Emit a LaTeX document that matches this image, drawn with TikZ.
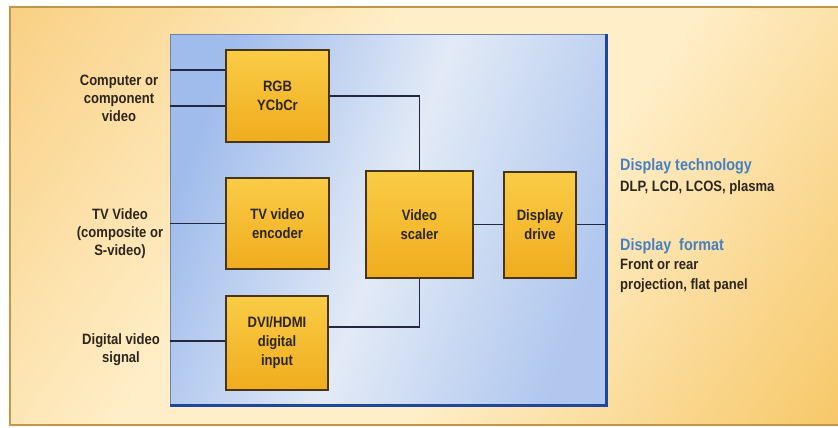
\documentclass[tikz,border=0pt]{standalone}
\usepackage{fontspec}
\setmainfont{Liberation Sans}[FakeStretch=0.87]
\definecolor{bgorange}{RGB}{245,190,90}
\definecolor{bgorangeb}{RGB}{242,178,50}
\definecolor{bgcream}{RGB}{255,238,200}
\definecolor{frameline}{RGB}{192,150,72}
\definecolor{panelside}{RGB}{160,188,236}
\definecolor{panelmid}{RGB}{226,234,246}
\definecolor{panelthin}{RGB}{110,130,170}
\definecolor{paneldark}{RGB}{30,72,160}
\definecolor{boxtop}{RGB}{250,204,70}
\definecolor{boxbot}{RGB}{240,172,30}
\definecolor{boxline}{RGB}{72,52,22}
\definecolor{wirecol}{RGB}{35,40,62}
\definecolor{ink}{RGB}{45,38,30}
\definecolor{headblue}{RGB}{70,128,195}
\pgfdeclarehorizontalshading{bgglow}{100bp}{color(0bp)=(bgorange); color(40bp)=(bgcream);
  color(58bp)=(bgcream); color(100bp)=(bgorangeb)}
\tikzset{
  blockbox/.style={draw=boxline, line width=1.6pt, top color=boxtop, bottom color=boxbot,
    align=center, inner sep=0pt, text=ink, font=\bfseries\fontsize{15}{19}\selectfont},
  wire/.style={draw=wirecol, line width=1.5pt},
  inlabel/.style={align=center, inner sep=0pt, text=ink, font=\bfseries\fontsize{15}{18}\selectfont},
  outhead/.style={anchor=west, inner sep=0pt, text=headblue, font=\bfseries\fontsize{16.5}{19}\selectfont},
  outtext/.style={anchor=west, align=left, inner sep=0pt, text=ink, font=\bfseries\fontsize{15}{20}\selectfont}
}
\begin{document}
\begin{tikzpicture}[x=1pt,y=-1pt]
  \useasboundingbox (0,0) rectangle (838,428);
  \shade[shading=bgglow, shading angle=-35] (10,7) rectangle (838,425);
  \draw[frameline, line width=1.5pt] (838,7) -- (10,7) -- (10,425) -- (838,425);
  \node[draw=panelthin, line width=1pt, left color=panelside, right color=panelside!75!panelmid, middle color=panelmid,
    shading angle=70, minimum width=436, minimum height=370, inner sep=0pt] (panel) at (388,220) {};
  \draw[paneldark, line width=3pt] (panel.north east) -- (panel.south east) -- (panel.south west);
  \node[blockbox, minimum width=103, minimum height=92] (rgb) at (277.5,96) {RGB\\YCbCr};
  \node[blockbox, minimum width=103, minimum height=91] (tvenc) at (277.5,223.5) {TV video\\encoder};
  \node[blockbox, minimum width=102, minimum height=94] (dvi) at (277,343) {DVI/HDMI\\digital\\input};
  \node[blockbox, minimum width=107, minimum height=107] (scaler) at (419.5,224.5) {Video\\scaler};
  \node[blockbox, minimum width=72, minimum height=106] (drive) at (540,225) {Display\\drive};
  \coordinate (incompa) at (170,70);
  \coordinate (incompb) at (170,106);
  \coordinate (intv) at (170,223.5);
  \coordinate (indig) at (170,341);
  \coordinate (outdrv) at (606,224.5);
  \node[inlabel] (comp) at (119,98) {Computer or\\component\\video};
  \node[inlabel] (tv) at (120,234) {TV Video\\(composite or\\S-video)};
  \node[inlabel] (digital) at (121,350) {Digital video\\signal};
  \node[outhead] (tech) at (620,166) {Display technology};
  \node[outtext] (techlist) at (620,188) {DLP, LCD, LCOS, plasma};
  \node[outhead] (format) at (620,246) {Display\ \ format};
  \node[outtext] (formatlist) at (620,276) {Front or rear\\projection, flat panel};
  \begin{scope}[wire]
    \draw (incompa) -- (incompa -| rgb.west);
    \draw (incompb) -- (incompb -| rgb.west);
    \draw (intv) -- (tvenc.west);
    \draw (indig) -- (indig -| dvi.west);
    \draw (rgb.east) -| (scaler.north);
    \draw ([yshift=16pt]dvi.east) -| (scaler.south);
    \draw (scaler.east) -- (scaler.east -| drive.west);
    \draw (drive.east |- outdrv) -- (outdrv);
  \end{scope}
\end{tikzpicture}
\end{document}
